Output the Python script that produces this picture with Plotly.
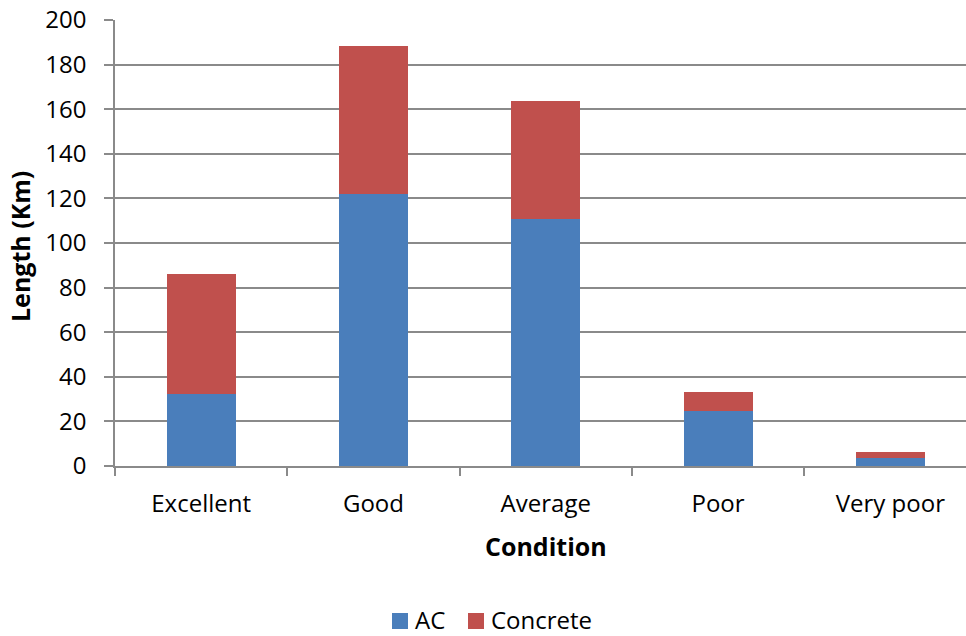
import plotly.graph_objects as go

# Road length by pavement condition, split by surface type
conditions = ["Excellent", "Good", "Average", "Poor", "Very poor"]
ac_km = [32.4, 122.0, 110.8, 24.8, 3.8]
concrete_km = [53.8, 66.4, 52.8, 8.6, 2.3]
series_names = ["AC", "Concrete"]
series_colors = ["#4A7EBB", "#C0504D"]

y_ticks = list(range(0, 201, 20))

FONT = "'Open Sans', sans-serif"
FS = 24
FS_TITLE = 25
GRID = "#8a8a8a"
W, H = 966, 636
ML, MR, MT, MB = 115, 0, 20, 170
PW = W - ML - MR
PH = H - MT - MB

fig = go.Figure()
for name, vals, col in zip(series_names, [ac_km, concrete_km], series_colors):
    fig.add_trace(go.Bar(name=name, x=conditions, y=vals, width=0.4,
                         marker=dict(color=col, line=dict(width=0)),
                         showlegend=False))

fig.update_layout(
    barmode="stack",
    width=W, height=H,
    margin=dict(l=ML, r=MR, t=MT, b=MB),
    paper_bgcolor="white", plot_bgcolor="white",
    font=dict(family=FONT, size=FS, color="#000000"),
    xaxis=dict(type="category", range=[-0.5, 4.439], automargin=False,
               showline=True, linecolor=GRID, linewidth=1.5,
               ticks="outside", tickson="boundaries", ticklen=8,
               tickcolor=GRID, tickwidth=1.5, showgrid=False,
               tickfont=dict(size=FS), ticklabelstandoff=15),
    yaxis=dict(range=[0, 200], tickvals=y_ticks, automargin=False,
               showline=True, linecolor=GRID, linewidth=1.5,
               ticks="outside", ticklen=9, tickcolor=GRID, tickwidth=1.5,
               showgrid=True, gridcolor=GRID, gridwidth=1.5,
               zeroline=False, tickfont=dict(size=FS), ticklabelstandoff=13),
)

def px_x(px):
    return (px - ML) / PW

def px_y(py):
    return (H - MB - py) / PH

# axis titles
fig.add_annotation(text="<b>Condition</b>", x=2, xref="x", y=px_y(546), yref="paper",
                   showarrow=False, font=dict(size=FS_TITLE), yanchor="middle")
fig.add_annotation(text="<b>Length (Km)</b>", x=px_x(20), xref="paper",
                   y=px_y(247), yref="paper", textangle=-90, showarrow=False,
                   font=dict(size=FS_TITLE), xanchor="center", yanchor="middle")

# legend below the chart
legend_items = [(series_names[0], series_colors[0], 392, 413),
                (series_names[1], series_colors[1], 468, 489)]
for name, col, sx, tx in legend_items:
    fig.add_shape(type="rect", xref="paper", yref="paper",
                  x0=px_x(sx), x1=px_x(sx + 16), y0=px_y(613), y1=px_y(629),
                  fillcolor=col, line=dict(width=0))
    fig.add_annotation(text=name, x=px_x(tx), xref="paper", y=px_y(619), yref="paper",
                       xanchor="left", yanchor="middle", showarrow=False,
                       font=dict(size=FS))

fig.write_html("out.html")
